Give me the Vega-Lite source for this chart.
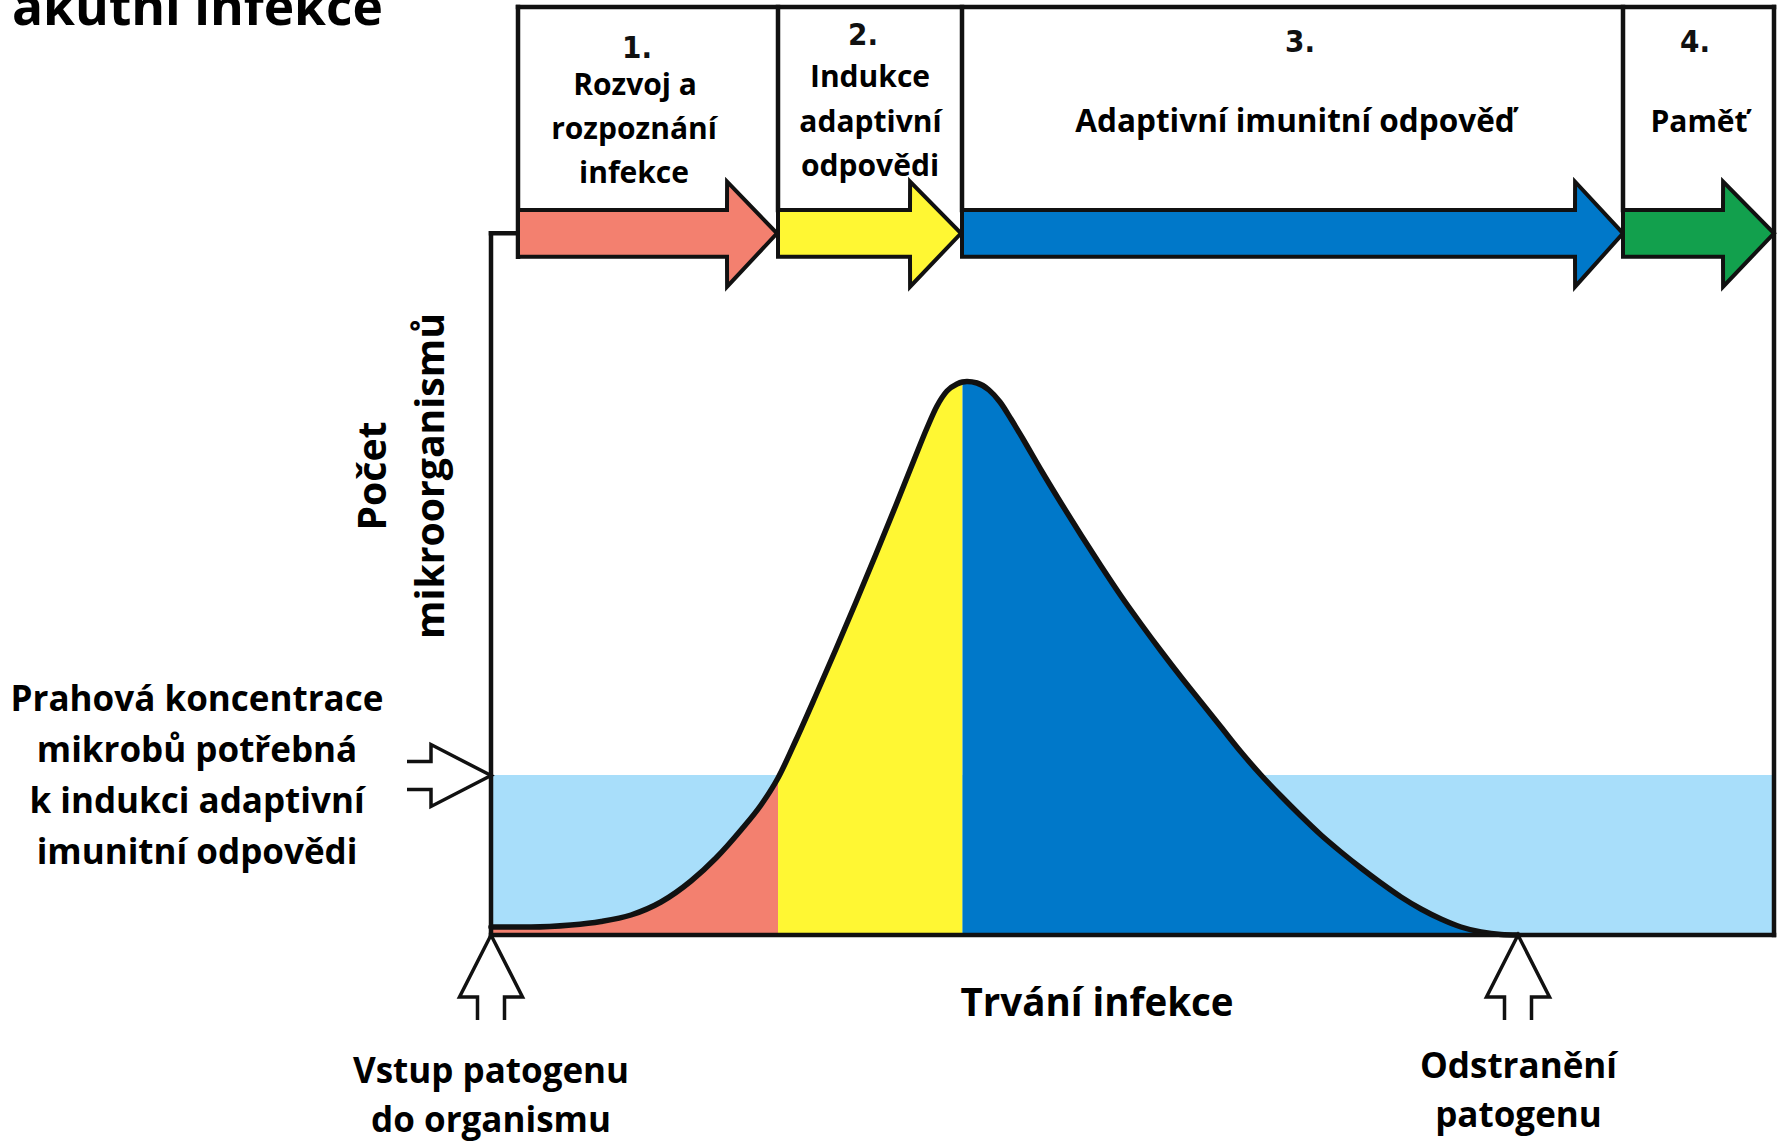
{
  "$schema": "https://vega.github.io/schema/vega-lite/v6.json",
  "width": 1783,
  "height": 1141,
  "padding": 0,
  "autosize": {"type": "none"},
  "background": "white",
  "config": {"view": {"stroke": null}},
  "datasets": {
    "band": [{"x0": 0, "x1": 128.3, "y0": 0, "y1": 16}],
    "curve": [
      {"t": 0, "n": 0.8, "phase": "1"},
      {"t": 4, "n": 0.8, "phase": "1"},
      {"t": 8, "n": 1.0, "phase": "1"},
      {"t": 11, "n": 1.35, "phase": "1"},
      {"t": 14, "n": 2.0, "phase": "1"},
      {"t": 17, "n": 3.3, "phase": "1"},
      {"t": 20, "n": 5.4, "phase": "1"},
      {"t": 22.5, "n": 7.7, "phase": "1"},
      {"t": 25, "n": 10.5, "phase": "1"},
      {"t": 27, "n": 13.0, "phase": "1"},
      {"t": 28.7, "n": 15.7, "phase": "1"},
      {"t": 28.7, "n": 15.7, "phase": "2", "dup": true},
      {"t": 30.5, "n": 19.5, "phase": "2"},
      {"t": 32.5, "n": 24.0, "phase": "2"},
      {"t": 34.5, "n": 28.6, "phase": "2"},
      {"t": 36.5, "n": 33.3, "phase": "2"},
      {"t": 38.5, "n": 38.1, "phase": "2"},
      {"t": 40.5, "n": 43.0, "phase": "2"},
      {"t": 42.3, "n": 47.5, "phase": "2"},
      {"t": 43.6, "n": 50.7, "phase": "2"},
      {"t": 44.6, "n": 52.9, "phase": "2"},
      {"t": 45.6, "n": 54.4, "phase": "2"},
      {"t": 46.6, "n": 55.1, "phase": "2"},
      {"t": 47.15, "n": 55.3, "phase": "2"},
      {"t": 47.15, "n": 55.3, "phase": "3", "dup": true},
      {"t": 47.6, "n": 55.35, "phase": "3"},
      {"t": 48.6, "n": 55.2, "phase": "3"},
      {"t": 49.8, "n": 54.5, "phase": "3"},
      {"t": 50.9, "n": 53.3, "phase": "3"},
      {"t": 52.0, "n": 51.6, "phase": "3"},
      {"t": 53.2, "n": 49.6, "phase": "3"},
      {"t": 55.0, "n": 46.5, "phase": "3"},
      {"t": 57.0, "n": 43.2, "phase": "3"},
      {"t": 59.0, "n": 40.0, "phase": "3"},
      {"t": 61.0, "n": 36.9, "phase": "3"},
      {"t": 63.0, "n": 33.9, "phase": "3"},
      {"t": 65.0, "n": 31.1, "phase": "3"},
      {"t": 67.0, "n": 28.4, "phase": "3"},
      {"t": 69.0, "n": 25.8, "phase": "3"},
      {"t": 71.0, "n": 23.3, "phase": "3"},
      {"t": 73.0, "n": 20.8, "phase": "3"},
      {"t": 75.0, "n": 18.3, "phase": "3"},
      {"t": 77.0, "n": 16.0, "phase": "3"},
      {"t": 79.0, "n": 13.9, "phase": "3"},
      {"t": 81.0, "n": 11.9, "phase": "3"},
      {"t": 83.0, "n": 10.0, "phase": "3"},
      {"t": 85.0, "n": 8.3, "phase": "3"},
      {"t": 87.0, "n": 6.7, "phase": "3"},
      {"t": 89.0, "n": 5.2, "phase": "3"},
      {"t": 91.0, "n": 3.8, "phase": "3"},
      {"t": 93.0, "n": 2.6, "phase": "3"},
      {"t": 95.0, "n": 1.6, "phase": "3"},
      {"t": 97.0, "n": 0.8, "phase": "3"},
      {"t": 99.0, "n": 0.3, "phase": "3"},
      {"t": 101.0, "n": 0.05, "phase": "3"},
      {"t": 102.7, "n": 0, "phase": "3"}
    ],
    "frame": [
      {"x": 0, "y": 0, "x2": 0, "y2": 70.17},
      {"x": 0, "y": 70.17, "x2": 2.7, "y2": 70.17},
      {"x": 0, "y": 0, "x2": 128.3, "y2": 0},
      {"x": 128.3, "y": 0, "x2": 128.3, "y2": 92.8},
      {"x": 2.7, "y": 92.8, "x2": 128.3, "y2": 92.8},
      {"x": 2.7, "y": 67.83, "x2": 2.7, "y2": 92.8},
      {"x": 28.7, "y": 72.5, "x2": 28.7, "y2": 92.8},
      {"x": 47.1, "y": 72.5, "x2": 47.1, "y2": 92.8},
      {"x": 113.2, "y": 72.5, "x2": 113.2, "y2": 92.8}
    ],
    "arrows": [
      {"phase": "1", "x": 2.7, "top": 72.5, "bot": 67.83},
      {"phase": "1", "x": 23.6, "top": 72.5, "bot": 67.83},
      {"phase": "1", "x": 23.61, "top": 75.33, "bot": 64.83},
      {"phase": "1", "x": 28.6, "top": 70.17, "bot": 70.17},
      {"phase": "2", "x": 28.7, "top": 72.5, "bot": 67.83},
      {"phase": "2", "x": 41.9, "top": 72.5, "bot": 67.83},
      {"phase": "2", "x": 41.91, "top": 75.33, "bot": 64.83},
      {"phase": "2", "x": 47.0, "top": 70.17, "bot": 70.17},
      {"phase": "3", "x": 47.1, "top": 72.5, "bot": 67.83},
      {"phase": "3", "x": 108.4, "top": 72.5, "bot": 67.83},
      {"phase": "3", "x": 108.41, "top": 75.33, "bot": 64.83},
      {"phase": "3", "x": 113.2, "top": 70.17, "bot": 70.17},
      {"phase": "4", "x": 113.2, "top": 72.5, "bot": 67.83},
      {"phase": "4", "x": 123.2, "top": 72.5, "bot": 67.83},
      {"phase": "4", "x": 123.21, "top": 75.33, "bot": 64.83},
      {"phase": "4", "x": 128.3, "top": 70.17, "bot": 70.17}
    ],
    "hollow": [
      {"id": "h1", "k": 1, "x": -8.4, "y": 17.35},
      {"id": "h1", "k": 2, "x": -6.0, "y": 17.35},
      {"id": "h1", "k": 3, "x": -6.0, "y": 19.05},
      {"id": "h1", "k": 4, "x": 0, "y": 15.95},
      {"id": "h1", "k": 5, "x": -6.0, "y": 12.85},
      {"id": "h1", "k": 6, "x": -6.0, "y": 14.55},
      {"id": "h1", "k": 7, "x": -8.4, "y": 14.55},
      {"id": "h2", "k": 1, "x": -1.35, "y": -8.5},
      {"id": "h2", "k": 2, "x": -1.35, "y": -6.2},
      {"id": "h2", "k": 3, "x": -3.15, "y": -6.2},
      {"id": "h2", "k": 4, "x": 0, "y": 0},
      {"id": "h2", "k": 5, "x": 3.15, "y": -6.2},
      {"id": "h2", "k": 6, "x": 1.35, "y": -6.2},
      {"id": "h2", "k": 7, "x": 1.35, "y": -8.5},
      {"id": "h3", "k": 1, "x": 101.35, "y": -8.5},
      {"id": "h3", "k": 2, "x": 101.35, "y": -6.2},
      {"id": "h3", "k": 3, "x": 99.55, "y": -6.2},
      {"id": "h3", "k": 4, "x": 102.7, "y": 0},
      {"id": "h3", "k": 5, "x": 105.85, "y": -6.2},
      {"id": "h3", "k": 6, "x": 104.05, "y": -6.2},
      {"id": "h3", "k": 7, "x": 104.05, "y": -8.5}
    ],
    "texts": [
      {"role": "title", "label": "akutní infekce", "x": -47.9, "y": 91.0},
      {"role": "num", "label": "1.", "x": 14.6, "y": 87.7},
      {"role": "num", "label": "2.", "x": 37.2, "y": 89.0},
      {"role": "num", "label": "3.", "x": 80.9, "y": 88.3},
      {"role": "num", "label": "4.", "x": 120.4, "y": 88.3},
      {"role": "phase", "label": "Rozvoj a", "x": 14.4, "y": 84.0},
      {"role": "phase", "label": "rozpoznání", "x": 14.3, "y": 79.6},
      {"role": "phase", "label": "infekce", "x": 14.3, "y": 75.2},
      {"role": "phase", "label": "Indukce", "x": 37.9, "y": 84.8},
      {"role": "phase", "label": "adaptivní", "x": 37.95, "y": 80.3},
      {"role": "phase", "label": "odpovědi", "x": 37.9, "y": 75.9},
      {"role": "phasewide", "label": "Adaptivní imunitní odpověď", "x": 80.4, "y": 80.3},
      {"role": "phase", "label": "Paměť", "x": 120.8, "y": 80.3},
      {"role": "ylab", "label": "Počet", "x": -10.5, "y": 45.9},
      {"role": "ylab", "label": "mikroorganismů", "x": -4.7, "y": 45.9},
      {"role": "xlab", "label": "Trvání infekce", "x": 60.6, "y": -8.05},
      {"role": "note", "label": "Prahová koncentrace", "x": -29.4, "y": 22.45},
      {"role": "note", "label": "mikrobů potřebná", "x": -29.4, "y": 17.35},
      {"role": "note", "label": "k indukci adaptivní", "x": -29.4, "y": 12.25},
      {"role": "note", "label": "imunitní odpovědi", "x": -29.4, "y": 7.15},
      {"role": "note", "label": "Vstup patogenu", "x": 0, "y": -14.8},
      {"role": "note", "label": "do organismu", "x": 0, "y": -19.7},
      {"role": "note", "label": "Odstranění", "x": 102.75, "y": -14.3},
      {"role": "note", "label": "patogenu", "x": 102.75, "y": -19.2}
    ]
  },
  "layer": [
    {
      "data": {"name": "band"},
      "mark": {"type": "rect", "color": "#A8DEFA"},
      "encoding": {
        "x": {"field": "x0", "type": "quantitative", "scale": {"domain": [-49.1, 129.2], "nice": false, "zero": false}, "axis": null},
        "x2": {"field": "x1"},
        "y": {"field": "y0", "type": "quantitative", "scale": {"domain": [-20.6, 93.5], "nice": false, "zero": false}, "axis": null},
        "y2": {"field": "y1"}
      }
    },
    {
      "data": {"name": "curve"},
      "mark": {"type": "area", "interpolate": "monotone"},
      "encoding": {
        "x": {"field": "t", "type": "quantitative", "scale": {"domain": [-49.1, 129.2], "nice": false, "zero": false}, "axis": null},
        "y": {"field": "n", "type": "quantitative", "stack": null, "scale": {"domain": [-20.6, 93.5], "nice": false, "zero": false}, "axis": null},
        "y2": {"datum": 0},
        "fill": {"field": "phase", "type": "nominal", "scale": {"domain": ["1", "2", "3", "4"], "range": ["#F3806F", "#FFF733", "#0078C9", "#12A04D"]}, "legend": null}
      }
    },
    {
      "data": {"name": "curve"},
      "transform": [{"filter": "!datum.dup"}],
      "mark": {"type": "line", "interpolate": "monotone", "color": "#111111", "strokeWidth": 5.5, "strokeCap": "round"},
      "encoding": {
        "x": {"field": "t", "type": "quantitative", "scale": {"domain": [-49.1, 129.2], "nice": false, "zero": false}, "axis": null},
        "y": {"field": "n", "type": "quantitative", "scale": {"domain": [-20.6, 93.5], "nice": false, "zero": false}, "axis": null}
      }
    },
    {
      "data": {"name": "frame"},
      "mark": {"type": "rule", "color": "#111111", "strokeWidth": 4.5, "strokeCap": "square"},
      "encoding": {
        "x": {"field": "x", "type": "quantitative", "scale": {"domain": [-49.1, 129.2], "nice": false, "zero": false}, "axis": null},
        "x2": {"field": "x2"},
        "y": {"field": "y", "type": "quantitative", "scale": {"domain": [-20.6, 93.5], "nice": false, "zero": false}, "axis": null},
        "y2": {"field": "y2"}
      }
    },
    {
      "data": {"name": "arrows"},
      "mark": {"type": "area", "stroke": "#111111", "strokeWidth": 4, "strokeJoin": "miter", "strokeMiterLimit": 10, "fillOpacity": 1},
      "encoding": {
        "x": {"field": "x", "type": "quantitative", "scale": {"domain": [-49.1, 129.2], "nice": false, "zero": false}, "axis": null},
        "y": {"field": "top", "type": "quantitative", "stack": null, "scale": {"domain": [-20.6, 93.5], "nice": false, "zero": false}, "axis": null},
        "y2": {"field": "bot"},
        "fill": {"field": "phase", "type": "nominal", "scale": {"domain": ["1", "2", "3", "4"], "range": ["#F3806F", "#FFF733", "#0078C9", "#12A04D"]}, "legend": null}
      }
    },
    {
      "data": {"name": "hollow"},
      "mark": {"type": "line", "color": "#111111", "strokeWidth": 3.5, "strokeJoin": "miter", "strokeMiterLimit": 10},
      "encoding": {
        "x": {"field": "x", "type": "quantitative", "scale": {"domain": [-49.1, 129.2], "nice": false, "zero": false}, "axis": null},
        "y": {"field": "y", "type": "quantitative", "scale": {"domain": [-20.6, 93.5], "nice": false, "zero": false}, "axis": null},
        "detail": {"field": "id", "type": "nominal"},
        "order": {"field": "k", "type": "quantitative"}
      }
    },
    {
      "data": {"name": "texts"},
      "transform": [{"filter": "datum.role === 'title'"}],
      "mark": {"type": "text", "font": "Open Sans", "fontWeight": "bold", "fontSize": 51.5, "align": "left", "baseline": "alphabetic", "color": "#000000"},
      "encoding": {
        "x": {"field": "x", "type": "quantitative", "scale": {"domain": [-49.1, 129.2], "nice": false, "zero": false}, "axis": null},
        "y": {"field": "y", "type": "quantitative", "scale": {"domain": [-20.6, 93.5], "nice": false, "zero": false}, "axis": null},
        "text": {"field": "label"}
      }
    },
    {
      "data": {"name": "texts"},
      "transform": [{"filter": "datum.role === 'num'"}],
      "mark": {"type": "text", "font": "Liberation Sans Narrow, DejaVu Sans Condensed, sans-serif", "fontWeight": "bold", "fontSize": 31, "align": "center", "baseline": "alphabetic", "color": "#111111"},
      "encoding": {
        "x": {"field": "x", "type": "quantitative", "scale": {"domain": [-49.1, 129.2], "nice": false, "zero": false}, "axis": null},
        "y": {"field": "y", "type": "quantitative", "scale": {"domain": [-20.6, 93.5], "nice": false, "zero": false}, "axis": null},
        "text": {"field": "label"}
      }
    },
    {
      "data": {"name": "texts"},
      "transform": [{"filter": "datum.role === 'phase'"}],
      "mark": {"type": "text", "font": "Open Sans", "fontWeight": "bold", "fontSize": 30, "align": "center", "baseline": "alphabetic", "color": "#000000"},
      "encoding": {
        "x": {"field": "x", "type": "quantitative", "scale": {"domain": [-49.1, 129.2], "nice": false, "zero": false}, "axis": null},
        "y": {"field": "y", "type": "quantitative", "scale": {"domain": [-20.6, 93.5], "nice": false, "zero": false}, "axis": null},
        "text": {"field": "label"}
      }
    },
    {
      "data": {"name": "texts"},
      "transform": [{"filter": "datum.role === 'phasewide'"}],
      "mark": {"type": "text", "font": "Open Sans", "fontWeight": "bold", "fontSize": 31.5, "align": "center", "baseline": "alphabetic", "color": "#000000"},
      "encoding": {
        "x": {"field": "x", "type": "quantitative", "scale": {"domain": [-49.1, 129.2], "nice": false, "zero": false}, "axis": null},
        "y": {"field": "y", "type": "quantitative", "scale": {"domain": [-20.6, 93.5], "nice": false, "zero": false}, "axis": null},
        "text": {"field": "label"}
      }
    },
    {
      "data": {"name": "texts"},
      "transform": [{"filter": "datum.role === 'ylab'"}],
      "mark": {"type": "text", "font": "Open Sans", "fontWeight": "bold", "fontSize": 39.2, "align": "center", "baseline": "alphabetic", "angle": 270, "color": "#000000"},
      "encoding": {
        "x": {"field": "x", "type": "quantitative", "scale": {"domain": [-49.1, 129.2], "nice": false, "zero": false}, "axis": null},
        "y": {"field": "y", "type": "quantitative", "scale": {"domain": [-20.6, 93.5], "nice": false, "zero": false}, "axis": null},
        "text": {"field": "label"}
      }
    },
    {
      "data": {"name": "texts"},
      "transform": [{"filter": "datum.role === 'xlab'"}],
      "mark": {"type": "text", "font": "Open Sans", "fontWeight": "bold", "fontSize": 38.5, "align": "center", "baseline": "alphabetic", "color": "#000000"},
      "encoding": {
        "x": {"field": "x", "type": "quantitative", "scale": {"domain": [-49.1, 129.2], "nice": false, "zero": false}, "axis": null},
        "y": {"field": "y", "type": "quantitative", "scale": {"domain": [-20.6, 93.5], "nice": false, "zero": false}, "axis": null},
        "text": {"field": "label"}
      }
    },
    {
      "data": {"name": "texts"},
      "transform": [{"filter": "datum.role === 'note'"}],
      "mark": {"type": "text", "font": "Open Sans", "fontWeight": "bold", "fontSize": 35, "align": "center", "baseline": "alphabetic", "color": "#000000"},
      "encoding": {
        "x": {"field": "x", "type": "quantitative", "scale": {"domain": [-49.1, 129.2], "nice": false, "zero": false}, "axis": null},
        "y": {"field": "y", "type": "quantitative", "scale": {"domain": [-20.6, 93.5], "nice": false, "zero": false}, "axis": null},
        "text": {"field": "label"}
      }
    }
  ]
}
